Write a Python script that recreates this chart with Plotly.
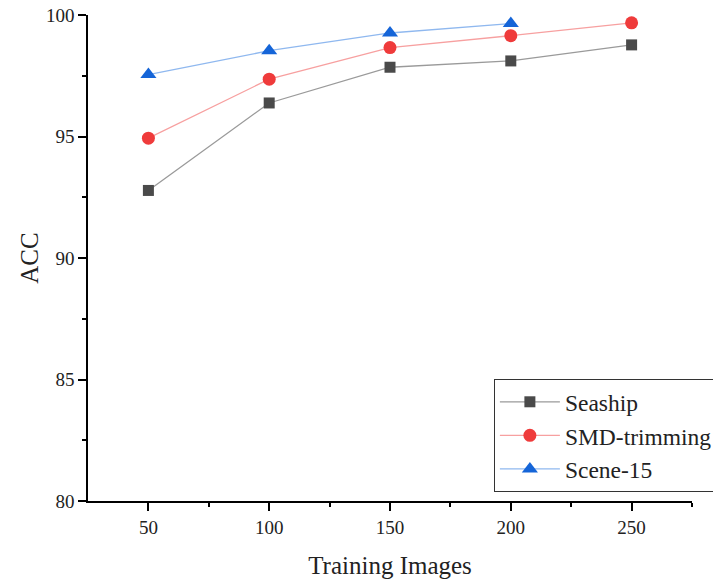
import plotly.graph_objects as go

x_images = [50, 100, 150, 200, 250]
seaship = [92.78, 96.38, 97.85, 98.11, 98.77]
smd_trimming = [94.93, 97.36, 98.66, 99.15, 99.68]
scene15_x = [50, 100, 150, 200]
scene15 = [97.55, 98.53, 99.26, 99.65]

FONT = "Liberation Serif, Times New Roman, serif"

fig = go.Figure()
fig.add_trace(go.Scatter(x=x_images, y=seaship, name="Seaship", mode="lines+markers",
                         line=dict(color="#9a9a9a", width=1.3),
                         marker=dict(symbol="square", size=11, color="#4a4a4a")))
fig.add_trace(go.Scatter(x=x_images, y=smd_trimming, name="SMD-trimming", mode="lines+markers",
                         line=dict(color="#f7a0a0", width=1.3),
                         marker=dict(symbol="circle", size=13, color="#ef3b3b")))
fig.add_trace(go.Scatter(x=scene15_x, y=scene15, name="Scene-15", mode="lines+markers",
                         line=dict(color="#8fb8ef", width=1.3),
                         marker=dict(symbol="triangle-up", size=14, color="#1565d8")))

axis_common = dict(showline=True, linecolor="black", linewidth=1.5, showgrid=False,
                   zeroline=False, ticks="outside", ticklen=8, tickwidth=1.5, tickcolor="black",
                   automargin=False,
                   tickfont=dict(family=FONT, size=19, color="#222"))

fig.update_xaxes(range=[25, 275], tickvals=[50, 100, 150, 200, 250],
                 minor=dict(tickvals=[75, 125, 175, 225, 275], ticks="outside", ticklen=4, tickwidth=1.5, tickcolor="black"),
                 title=dict(text="Training Images", font=dict(family=FONT, size=25, color="#222"), standoff=20),
                 **axis_common)
fig.update_yaxes(range=[80, 100], tickvals=[80, 85, 90, 95, 100],
                 minor=dict(tickvals=[82.5, 87.5, 92.5, 97.5], ticks="outside", ticklen=4, tickwidth=1.5, tickcolor="black"),
                 title=dict(text="ACC", font=dict(family=FONT, size=25, color="#222"), standoff=0),
                 **axis_common)

fig.update_layout(
    width=713, height=581,
    margin=dict(l=88, r=21, t=15, b=80, autoexpand=False),
    plot_bgcolor="white", paper_bgcolor="white",
    legend=dict(x=0.672, y=0.251, xanchor="left", yanchor="top",
                bgcolor="white", bordercolor="#333", borderwidth=1,
                font=dict(family=FONT, size=23.5, color="#222"),
                itemwidth=60, tracegroupgap=0),
    showlegend=True,
)

fig.write_html("out.html")
